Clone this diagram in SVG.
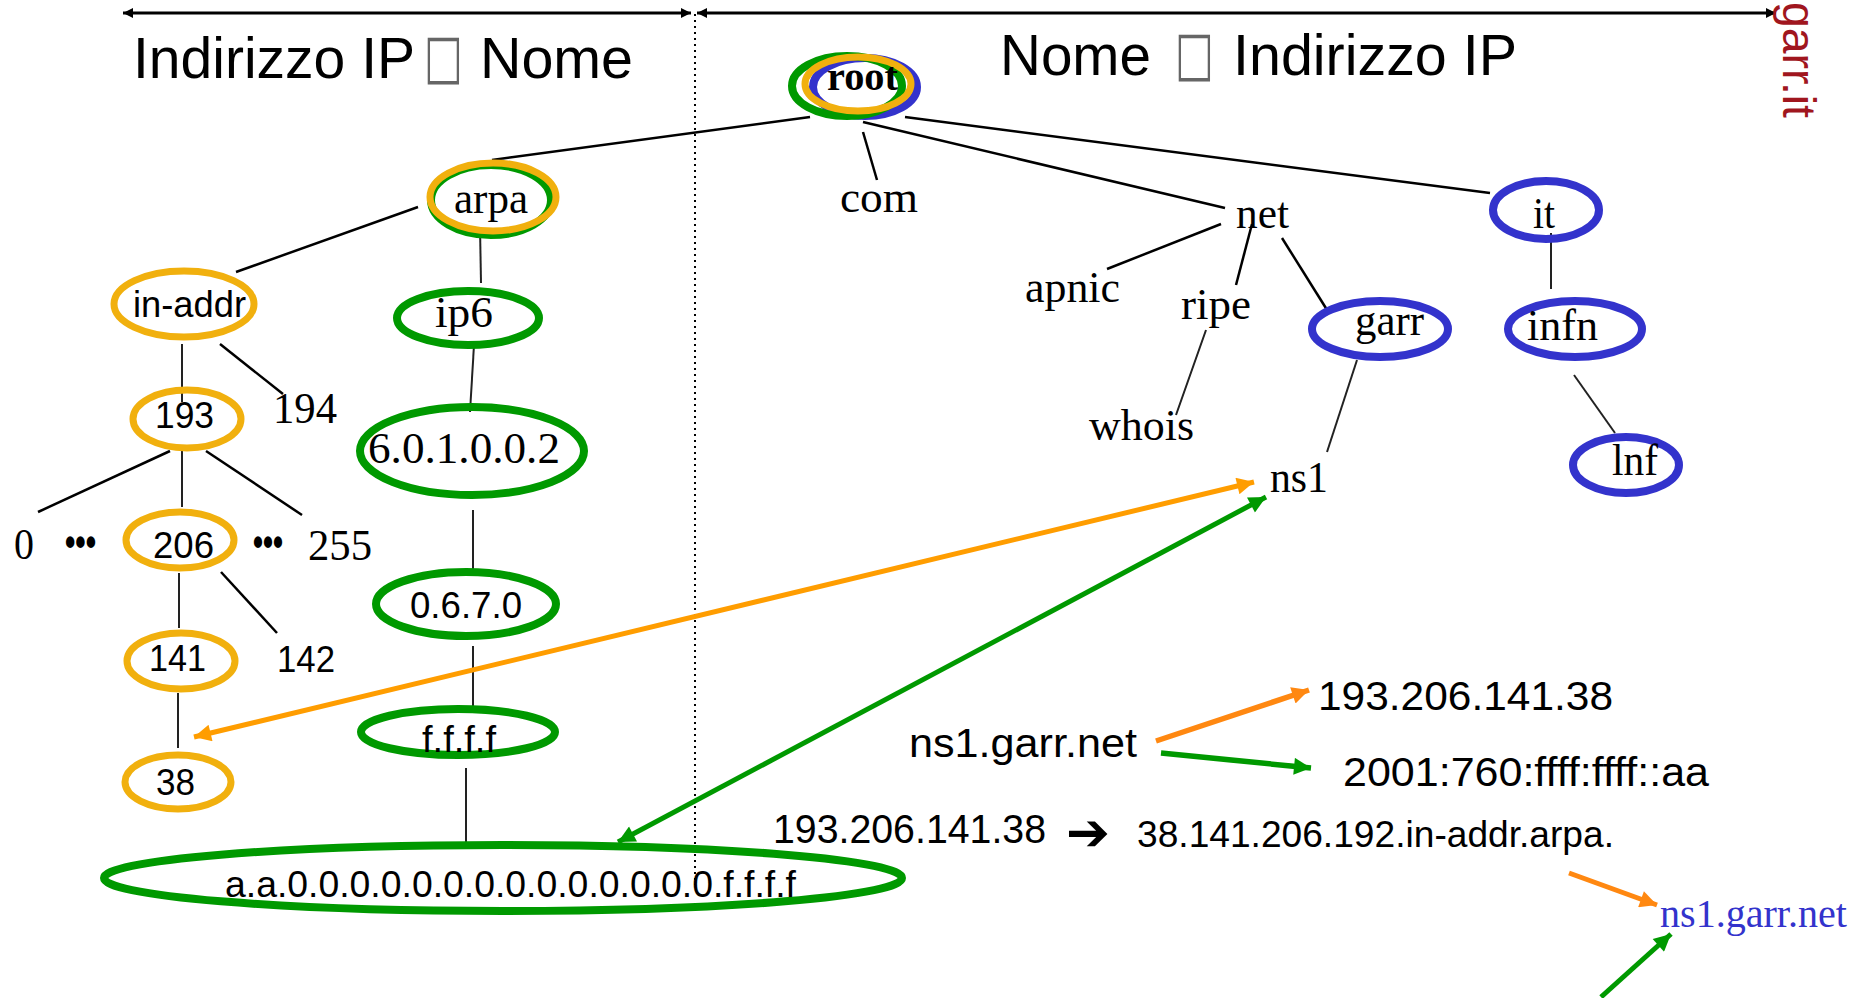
<svg xmlns="http://www.w3.org/2000/svg" width="1854" height="998" viewBox="0 0 1854 998">
<style>
.bg{fill:#ffffff}
.sans{font-family:"Liberation Sans",Arial,sans-serif;fill:#000}
.serif{font-family:"Liberation Serif","Times New Roman",serif;fill:#000}
.t36{font-size:37px}
.t44{font-size:45px}
.or{fill:none;stroke:#F1B00E;stroke-width:7}
.gr{fill:none;stroke:#009900;stroke-width:8}
.bl{fill:none;stroke:#3333CC;stroke-width:8}
.edge{fill:none;stroke:#000;stroke-width:2.5}
.thin{fill:none;stroke:#222;stroke-width:2}
.dots{font-family:"Liberation Sans",Arial,sans-serif;font-size:40px;font-weight:bold;fill:#000}
.title{font-family:"Liberation Sans",Arial,sans-serif;font-size:58px;fill:#000}
.box{font-family:"DejaVu Sans",sans-serif;font-size:50px;fill:#666}
</style>
<defs>
<marker id="mk" viewBox="0 0 10 10" refX="10" refY="5" markerWidth="14" markerHeight="10" markerUnits="userSpaceOnUse" orient="auto-start-reverse"><path d="M0,0 L10,5 L0,10 z" fill="#000"/></marker>
<marker id="mo" viewBox="0 0 10 10" refX="10" refY="5" markerWidth="22" markerHeight="17" markerUnits="userSpaceOnUse" orient="auto-start-reverse"><path d="M0,0 L10,5 L0,10 z" fill="#FF9D00"/></marker>
<marker id="mg" viewBox="0 0 10 10" refX="10" refY="5" markerWidth="22" markerHeight="17" markerUnits="userSpaceOnUse" orient="auto-start-reverse"><path d="M0,0 L10,5 L0,10 z" fill="#009900"/></marker>
<marker id="mo2" viewBox="0 0 10 10" refX="10" refY="5" markerWidth="22" markerHeight="17" markerUnits="userSpaceOnUse" orient="auto"><path d="M0,0 L10,5 L0,10 z" fill="#FF8811"/></marker>
</defs>
<rect class="bg" x="0" y="0" width="1854" height="998"/>

<g id="header">
<line x1="123" y1="13" x2="691" y2="13" stroke="#000" stroke-width="3" marker-start="url(#mk)" marker-end="url(#mk)"/>
<line x1="697" y1="13" x2="1776" y2="13" stroke="#000" stroke-width="3" marker-start="url(#mk)" marker-end="url(#mk)"/>
<line x1="695" y1="14" x2="695" y2="885" stroke="#000" stroke-width="2" stroke-dasharray="2,4"/>
<text class="title" x="133" y="78" textLength="282" lengthAdjust="spacingAndGlyphs">Indirizzo IP</text>
<text class="box" transform="translate(424,77) scale(0.82,1.22)" x="0" y="0">□</text>
<text class="title" x="480" y="78" textLength="153" lengthAdjust="spacingAndGlyphs">Nome</text>
<text class="title" x="1000" y="75" textLength="151" lengthAdjust="spacingAndGlyphs">Nome</text>
<text class="box" transform="translate(1175,74) scale(0.82,1.22)" x="0" y="0">□</text>
<text class="title" x="1233" y="75" textLength="284" lengthAdjust="spacingAndGlyphs">Indirizzo IP</text>
<text transform="translate(1783,2) rotate(90)" x="0" y="0" font-family="Liberation Sans, Arial, sans-serif" font-size="47" fill="#A0161E" textLength="116" lengthAdjust="spacingAndGlyphs">garr.it</text>
</g>

<g id="connectors">
<line class="edge" x1="810" y1="117" x2="492" y2="160"/>
<line class="edge" x1="863" y1="132" x2="877" y2="180"/>
<line class="edge" x1="863" y1="122" x2="1225" y2="208"/>
<line class="edge" x1="905" y1="117" x2="1490" y2="193"/>
<line class="edge" x1="1221" y1="224" x2="1107" y2="269"/>
<line class="edge" x1="1252" y1="224" x2="1236" y2="285"/>
<line class="edge" x1="1282" y1="238" x2="1329" y2="313"/>
<line class="thin" x1="1206" y1="330" x2="1176" y2="415"/>
<line class="thin" x1="1357" y1="360" x2="1327" y2="452"/>
<line class="thin" x1="1551" y1="233" x2="1551" y2="289"/>
<line class="thin" x1="1574" y1="375" x2="1615" y2="433"/>
<line class="edge" x1="418" y1="207" x2="236" y2="272"/>
<line class="thin" x1="480" y1="227" x2="481" y2="283"/>
<line class="thin" x1="182" y1="344" x2="182" y2="402"/>
<line class="edge" x1="220" y1="344" x2="283" y2="394"/>
<line class="thin" x1="474" y1="345" x2="470" y2="412"/>
<line class="edge" x1="170" y1="451" x2="38" y2="512"/>
<line class="thin" x1="182" y1="451" x2="182" y2="507"/>
<line class="edge" x1="206" y1="451" x2="302" y2="515"/>
<line class="thin" x1="179" y1="573" x2="179" y2="628"/>
<line class="edge" x1="221" y1="572" x2="277" y2="633"/>
<line class="thin" x1="178" y1="693" x2="178" y2="748"/>
<line class="thin" x1="473" y1="510" x2="473" y2="573"/>
<line class="thin" x1="473" y1="646" x2="473" y2="708"/>
<line class="thin" x1="466" y1="768" x2="466" y2="845"/>
<line x1="194" y1="737" x2="1254" y2="482" stroke="#FF9D00" stroke-width="5" marker-start="url(#mo)" marker-end="url(#mo)"/>
<line x1="618" y1="842" x2="1266" y2="497" stroke="#009900" stroke-width="5" marker-start="url(#mg)" marker-end="url(#mg)"/>
<line x1="1156" y1="741" x2="1309" y2="690" stroke="#FF8811" stroke-width="5.5" marker-end="url(#mo2)"/>
<line x1="1161" y1="753" x2="1311" y2="768" stroke="#009900" stroke-width="5.5" marker-end="url(#mg)"/>
<line x1="1569" y1="873" x2="1657" y2="905" stroke="#FF8811" stroke-width="5" marker-end="url(#mo2)"/>
<line x1="1601" y1="997" x2="1671" y2="934" stroke="#009900" stroke-width="5" marker-end="url(#mg)"/>
</g>

<g id="node-root">
<ellipse class="bl" cx="865" cy="87" rx="52" ry="29"/>
<ellipse class="gr" cx="847" cy="86" rx="55" ry="30"/>
<ellipse class="or" cx="858" cy="84" rx="53" ry="27"/>
<text class="serif" x="827" y="90" font-size="41" font-weight="bold" textLength="71" lengthAdjust="spacingAndGlyphs">root</text>
</g>
<g id="node-arpa">
<ellipse class="gr" cx="491" cy="200" rx="60" ry="35"/>
<ellipse class="or" cx="493" cy="197" rx="63" ry="34"/>
<text class="serif t44" x="454" y="213" textLength="74" lengthAdjust="spacingAndGlyphs">arpa</text>
</g>
<g id="node-com"><text class="serif t44" x="840" y="212" textLength="78" lengthAdjust="spacingAndGlyphs">com</text></g>
<g id="node-net"><text class="serif t44" x="1236" y="228" textLength="53" lengthAdjust="spacingAndGlyphs">net</text></g>
<g id="node-it">
<ellipse class="bl" cx="1546" cy="210" rx="53" ry="29"/>
<text class="serif t44" x="1533" y="228" textLength="22" lengthAdjust="spacingAndGlyphs">it</text>
</g>
<g id="node-apnic"><text class="serif t44" x="1025" y="302" textLength="95" lengthAdjust="spacingAndGlyphs">apnic</text></g>
<g id="node-ripe"><text class="serif t44" x="1181" y="319" textLength="70" lengthAdjust="spacingAndGlyphs">ripe</text></g>
<g id="node-garr">
<ellipse class="bl" cx="1380" cy="329" rx="68" ry="28"/>
<text class="serif t44" x="1355" y="335" textLength="69" lengthAdjust="spacingAndGlyphs">garr</text>
</g>
<g id="node-infn">
<ellipse class="bl" cx="1575" cy="329" rx="67" ry="28"/>
<text class="serif t44" x="1527" y="340" textLength="71" lengthAdjust="spacingAndGlyphs">infn</text>
</g>
<g id="node-whois"><text class="serif t44" x="1089" y="440" textLength="105" lengthAdjust="spacingAndGlyphs">whois</text></g>
<g id="node-ns1"><text class="serif t44" x="1270" y="492" textLength="58" lengthAdjust="spacingAndGlyphs">ns1</text></g>
<g id="node-lnf">
<ellipse class="bl" cx="1626" cy="465" rx="53" ry="28"/>
<text class="serif t44" x="1612" y="475" textLength="46" lengthAdjust="spacingAndGlyphs">lnf</text>
</g>
<g id="node-in-addr">
<ellipse class="or" cx="184" cy="304" rx="70" ry="33"/>
<text class="sans t36" x="133" y="317" textLength="113" lengthAdjust="spacingAndGlyphs">in-addr</text>
</g>
<g id="node-ip6">
<ellipse class="gr" cx="468" cy="318" rx="71" ry="27"/>
<text class="serif t44" x="435" y="327" textLength="58" lengthAdjust="spacingAndGlyphs">ip6</text>
</g>
<g id="node-193">
<ellipse class="or" cx="187" cy="419" rx="54" ry="29"/>
<text class="sans t36" x="155" y="428" textLength="59" lengthAdjust="spacingAndGlyphs">193</text>
</g>
<g id="node-194"><text class="serif t44" x="273" y="423" textLength="64" lengthAdjust="spacingAndGlyphs">194</text></g>
<g id="node-6.0.1.0.0.2">
<ellipse class="gr" cx="472" cy="451" rx="112" ry="44" stroke-width="9"/>
<text class="serif t44" x="368" y="463" textLength="192" lengthAdjust="spacingAndGlyphs">6.0.1.0.0.2</text>
</g>
<g id="node-0"><text class="serif t44" x="14" y="559" textLength="20" lengthAdjust="spacingAndGlyphs">0</text></g>
<g id="dots-left"><text class="dots" x="65" y="556" textLength="31" lengthAdjust="spacingAndGlyphs">•••</text></g>
<g id="node-206">
<ellipse class="or" cx="180" cy="540" rx="54" ry="28"/>
<text class="sans t36" x="153" y="558" textLength="61" lengthAdjust="spacingAndGlyphs">206</text>
</g>
<g id="dots-right"><text class="dots" x="253" y="556" textLength="30" lengthAdjust="spacingAndGlyphs">•••</text></g>
<g id="node-255"><text class="serif t44" x="308" y="560" textLength="64" lengthAdjust="spacingAndGlyphs">255</text></g>
<g id="node-0.6.7.0">
<ellipse class="gr" cx="466" cy="604" rx="90" ry="32"/>
<text class="sans t36" x="410" y="618" textLength="112" lengthAdjust="spacingAndGlyphs">0.6.7.0</text>
</g>
<g id="node-141">
<ellipse class="or" cx="181" cy="661" rx="54" ry="28"/>
<text class="sans t36" x="149" y="671" textLength="57" lengthAdjust="spacingAndGlyphs">141</text>
</g>
<g id="node-142"><text class="sans t36" x="277" y="672" textLength="58" lengthAdjust="spacingAndGlyphs">142</text></g>
<g id="node-f.f.f.f">
<ellipse class="gr" cx="458" cy="732" rx="97" ry="23"/>
<text class="sans t36" x="422" y="752" textLength="74" lengthAdjust="spacingAndGlyphs">f.f.f.f</text>
</g>
<g id="node-38">
<ellipse class="or" cx="178" cy="782" rx="53" ry="27"/>
<text class="sans t36" x="156" y="795" textLength="39" lengthAdjust="spacingAndGlyphs">38</text>
</g>
<g id="node-ipv6-leaf">
<ellipse class="gr" cx="503" cy="878" rx="399" ry="33" stroke-width="10"/>
<text class="sans t36" x="225" y="897" textLength="571" lengthAdjust="spacingAndGlyphs">a.a.0.0.0.0.0.0.0.0.0.0.0.0.0.0.f.f.f.f</text>
</g>

<g id="notes">
<text class="sans" font-size="41" x="909" y="757" textLength="228" lengthAdjust="spacingAndGlyphs">ns1.garr.net</text>
<text class="sans" font-size="41" x="1318" y="710" textLength="295" lengthAdjust="spacingAndGlyphs">193.206.141.38</text>
<text class="sans" font-size="41" x="1343" y="786" textLength="366" lengthAdjust="spacingAndGlyphs">2001:760:ffff:ffff::aa</text>
<text class="sans" font-size="41" x="773" y="843" textLength="273" lengthAdjust="spacingAndGlyphs">193.206.141.38</text>
<text font-family="DejaVu Sans, sans-serif" font-size="52" font-weight="bold" x="1066" y="850" fill="#000" textLength="44" lengthAdjust="spacingAndGlyphs">➔</text>
<text class="sans" font-size="37" x="1137" y="847" textLength="477" lengthAdjust="spacingAndGlyphs">38.141.206.192.in-addr.arpa.</text>
<text class="serif" font-size="41" x="1660" y="927" style="fill:#3333CC" textLength="187" lengthAdjust="spacingAndGlyphs">ns1.garr.net</text>
</g>
</svg>
